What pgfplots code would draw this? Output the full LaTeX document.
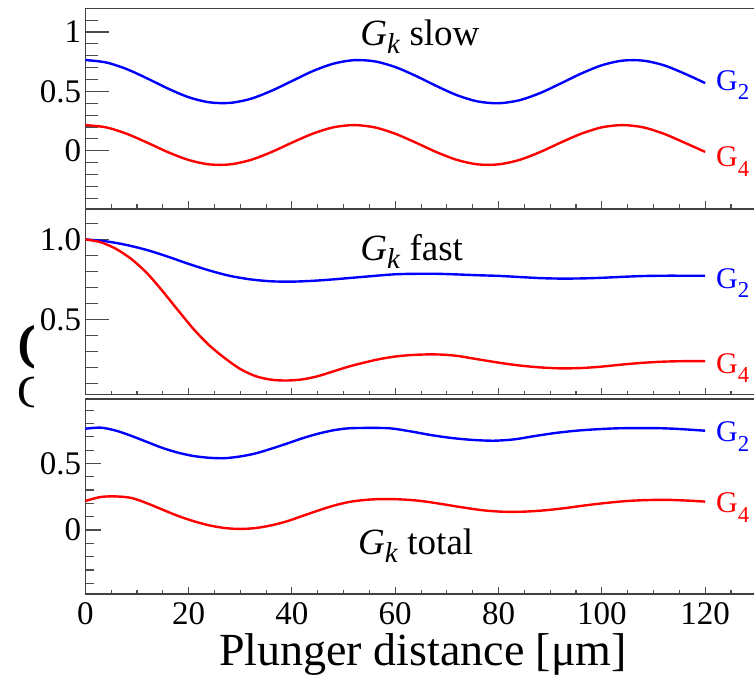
\documentclass[border=0pt]{standalone}
\usepackage{fontspec}
\setmainfont{Liberation Serif}
\usepackage{pgfplots}
\usepackage{pgfplotstable}
\pgfplotsset{compat=1.18}

\definecolor{rootblue}{RGB}{0,0,255}
\definecolor{rootred}{RGB}{255,0,0}
\newcommand{\fs}[1]{\fontsize{#1}{#1}\selectfont}
\newcommand{\lsub}[1]{\raisebox{-0.32em}{\scalebox{0.76}{#1}}}
\newcommand{\tsub}[1]{\raisebox{-0.22em}{\scalebox{0.78}{#1}}}

% slow component
\pgfplotstableread{
x    g2     g4
0    0.764  0.216
4    0.744  0.197
8    0.688  0.143
12   0.609  0.068
16   0.524 -0.012
20   0.451 -0.078
24   0.408 -0.115
28   0.403 -0.115
32   0.437 -0.078
36   0.504 -0.012
40   0.587  0.068
44   0.670  0.143
48   0.733  0.197
52   0.763  0.216
56   0.753  0.197
60   0.705  0.143
64   0.630  0.068
68   0.545 -0.012
72   0.467 -0.078
76   0.415 -0.115
80   0.400 -0.115
84   0.425 -0.078
88   0.485 -0.012
92   0.566  0.068
96   0.650  0.143
100  0.720  0.197
104  0.759  0.216
108  0.759  0.197
112  0.720  0.143
116  0.650  0.068
120  0.570 -0.010
}\slowtab

% fast component, G2
\pgfplotstableread{
x    g
0    1.000
4    0.988
8    0.965
12   0.933
16   0.892
20   0.847
24   0.806
28   0.772
32   0.750
36   0.738
40   0.736
44   0.741
48   0.750
52   0.761
56   0.772
60   0.782
64   0.785
68   0.785
72   0.781
76   0.776
80   0.772
84   0.765
88   0.758
92   0.755
96   0.756
100  0.760
104  0.766
108  0.771
112  0.773
116  0.773
120  0.773
}\fasttwo

% fast component, G4
\pgfplotstableread{
x    g
0    1.000
3    0.982
6    0.940
9    0.875
12   0.787
15   0.675
18   0.555
21   0.438
24   0.338
27   0.258
30   0.190
33   0.145
36   0.123
39   0.118
42   0.125
45   0.145
48   0.175
51   0.205
54   0.230
57   0.252
60   0.268
63   0.277
66   0.281
69   0.280
72   0.272
75   0.256
78   0.240
81   0.225
84   0.212
88   0.200
92   0.194
96   0.196
100  0.205
104  0.218
108  0.229
112  0.236
116  0.239
120  0.239
}\fastfour

% total, G2
\pgfplotstableread{
x    g
0    0.760
3    0.768
6    0.745
9    0.705
12   0.660
15   0.615
18   0.580
21   0.555
24   0.542
27   0.539
30   0.552
33   0.575
36   0.610
39   0.648
42   0.688
45   0.722
48   0.748
51   0.763
55   0.766
59   0.763
63   0.740
67   0.712
71   0.690
75   0.676
79   0.670
83   0.680
87   0.705
91   0.728
95   0.745
99   0.756
103  0.763
107  0.765
111  0.764
115  0.758
120  0.745
}\totaltwo

% total, G4
\pgfplotstableread{
x    g
0    0.218
3    0.248
6    0.252
9    0.240
12   0.200
15   0.152
18   0.105
21   0.066
24   0.035
27   0.015
30   0.008
33   0.015
36   0.035
39   0.065
42   0.105
45   0.145
48   0.182
51   0.210
54   0.225
57   0.232
61   0.230
65   0.218
69   0.195
73   0.170
77   0.148
81   0.137
85   0.138
89   0.148
93   0.165
97   0.186
101  0.204
105  0.218
109  0.225
113  0.226
117  0.220
120  0.213
}\totalfour

\pgfplotsset{
  panel/.style={
    scale only axis, width=671.5pt, anchor=south west,
    xmin=0, xmax=130, xtick={0,20,...,140}, minor x tick num=3,
    minor y tick num=4,
    tick pos=left, tick align=inside,
    axis line style={black!75, line width=1.3pt},
    every tick/.style={black!70, line width=1.1pt},
    xtick style={/pgfplots/major tick length=7pt, /pgfplots/minor tick length=4pt},
    ticklabel style={font=\fs{33}},
    /pgf/number format/assume math mode=true,
    yticklabel style={anchor=east, inner sep=0pt, xshift=-4pt},
    xticklabel style={anchor=north, inner sep=0pt, yshift=-8pt},
    clip=false,
  },
  curve/.style={line width=2.4pt, smooth},
}
\tikzset{
  gl/.style={anchor=base west, inner sep=0pt, font=\fs{30}},
  ttl/.style={anchor=base west, inner sep=0pt, font=\fs{37}},
}

\begin{document}
\begin{tikzpicture}
\useasboundingbox (0,0) rectangle (754pt,677pt);

% slow
\begin{axis}[panel, at={(85.3pt,468.7pt)}, height=200pt,
  ymin=-0.485, ymax=1.2, ytick={-0.5,0,0.5,1,1.5},
  ytick style={/pgfplots/major tick length=24pt, /pgfplots/minor tick length=13pt},
  xticklabels={}]
  \addplot[curve, rootblue] table[x=x, y=g2] {\slowtab};
  \addplot[curve, rootred]  table[x=x, y=g4] {\slowtab};
  \node[ttl] at (axis cs:53.2,0.89) {\textit{G}\tsub{\textit{k}} slow};
  \node[gl, text=rootblue] at (axis cs:122.1,0.511) {G\lsub{2}};
  \node[gl, text=rootred]  at (axis cs:122.1,-0.137) {G\lsub{4}};
\end{axis}

% fast
\begin{axis}[panel, at={(85.3pt,282.4pt)}, height=185.6pt,
  ymin=0.03, ymax=1.19, ytick={0,0.5,1,1.5}, yticklabels={0.0,0.5,1.0,1.5},
  ytick style={/pgfplots/major tick length=24pt, /pgfplots/minor tick length=13pt},
  xticklabels={}]
  \addplot[curve, rootblue] table[x=x, y=g] {\fasttwo};
  \addplot[curve, rootred]  table[x=x, y=g] {\fastfour};
  \node[ttl] at (axis cs:53.2,0.871) {\textit{G}\tsub{\textit{k}} fast};
  \node[gl, text=rootblue] at (axis cs:122.1,0.696) {G\lsub{2}};
  \node[gl, text=rootred]  at (axis cs:122.1,0.164) {G\lsub{4}};
\end{axis}

% total
\begin{axis}[panel, at={(85.3pt,83pt)}, height=195pt,
  ymin=-0.48, ymax=0.983, ytick={-0.5,0,0.5,1},
  ytick style={/pgfplots/major tick length=16pt, /pgfplots/minor tick length=9pt},
  xlabel={Plunger distance [μm]},
  xlabel style={at={(axis description cs:0.503,-0.369)}, anchor=base,
    inner sep=0pt, font=\fs{46}}]
  \addplot[curve, rootblue] table[x=x, y=g] {\totaltwo};
  \addplot[curve, rootred]  table[x=x, y=g] {\totalfour};
  \node[ttl] at (axis cs:52.8,-0.18) {\textit{G}\tsub{\textit{k}} total};
  \node[gl, text=rootblue] at (axis cs:122.1,0.662) {G\lsub{2}};
  \node[gl, text=rootred]  at (axis cs:122.1,0.128) {G\lsub{4}};
\end{axis}

% vertical axis title, mostly hidden behind the left margin edge
\begin{scope}
  \clip (0,0) rectangle (33pt,677pt);
  \node[anchor=base west, inner sep=0pt, font=\fs{68}] at (17pt,307pt) {G};
  \node[anchor=base west, inner sep=0pt, font=\fs{46}] at (17pt,269pt) {G};
\end{scope}
\end{tikzpicture}
\end{document}
